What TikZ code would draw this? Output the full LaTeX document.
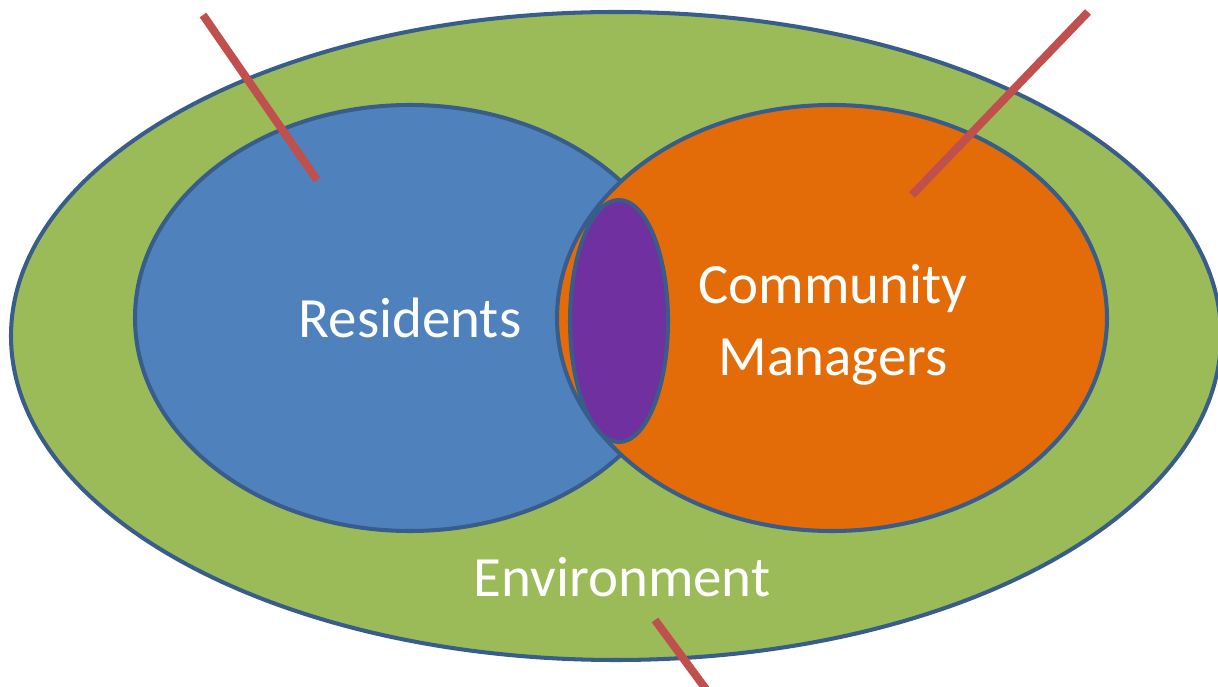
\documentclass[tikz,border=0pt]{standalone}
\usepackage{fontspec}
\setmainfont{Carlito}
\usetikzlibrary{shapes.geometric}

\definecolor{envgreen}{HTML}{9BBB59}
\definecolor{resblue}{HTML}{4F81BD}
\definecolor{mgrorange}{HTML}{E36C09}
\definecolor{sharedpurple}{HTML}{7030A0}
\definecolor{rimblue}{HTML}{385D8A}
\definecolor{pointred}{HTML}{C0504D}

\begin{document}
\begin{tikzpicture}
    \tikzstyle{zone} = [ellipse, draw=rimblue, line width=1.15pt, inner sep=0pt, text=white, align=center, font=\fontsize{16.2}{20.5}\selectfont]
    \tikzstyle{pointer} = [draw=pointred, line width=2.3pt]

    \useasboundingbox (0,0) rectangle (12.18,6.87);

    % Environment
    \node [zone, fill=envgreen, minimum width=12.10cm, minimum height=6.48cm] (env) at (6.16,3.51) {};
    \node [text=white, font=\fontsize{16.2}{20.5}\selectfont] (envlabel) at (6.22,1.10) {Environment};

    % Residents and community managers
    \node [zone, fill=resblue, minimum width=5.50cm, minimum height=4.26cm] (residents) at (4.10,3.69) {Residents};
    \node [zone, fill=mgrorange, minimum width=5.50cm, minimum height=4.26cm] (managers) at (8.32,3.69) {};
    \node [text=white, align=center, font=\fontsize{16.2}{20.5}\selectfont] (mgrlabel) at (8.33,3.62) {Community\\Managers};

    % Overlap
    \node [zone, fill=sharedpurple, minimum width=0.98cm, minimum height=2.42cm] (shared) at (6.19,3.66) {};

    % Pointers
    \coordinate (resout) at (2.03,6.72);
    \coordinate (resin) at (3.17,5.07);
    \coordinate (mgrout) at (10.88,6.75);
    \coordinate (mgrin) at (9.12,4.92);
    \coordinate (envin) at (6.55,0.67);
    \coordinate (envout) at (7.08,-0.05);

    \draw [pointer] (resout) -- (resin);
    \draw [pointer] (mgrout) -- (mgrin);
    \draw [pointer] (envin) -- (envout);
\end{tikzpicture}
\end{document}
